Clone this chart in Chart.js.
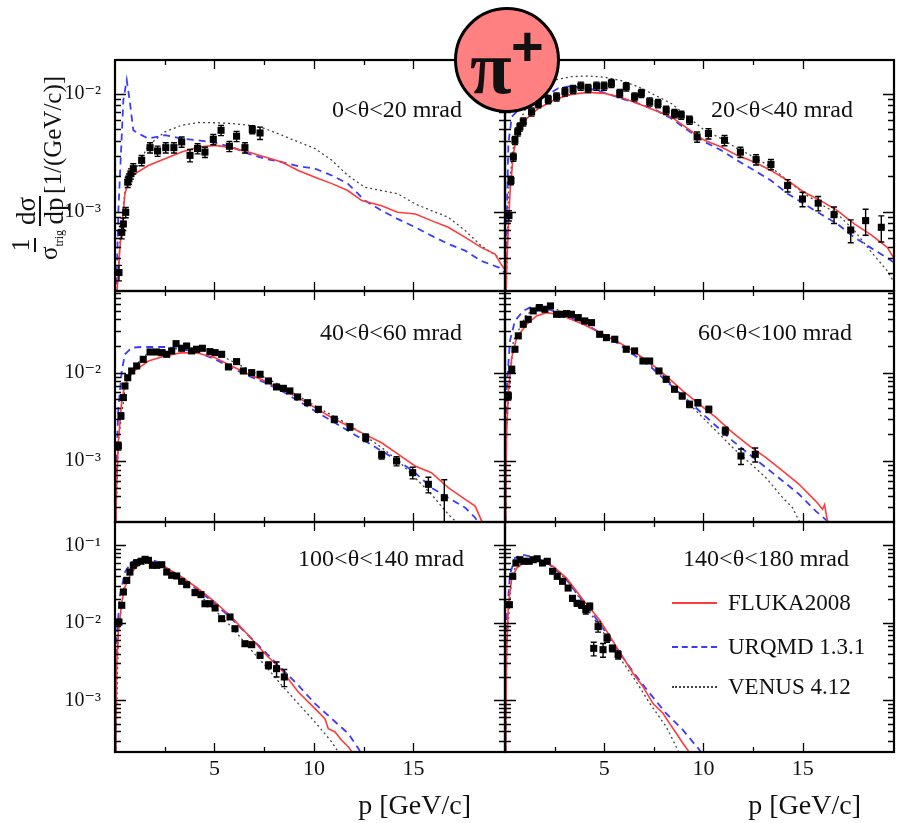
<!DOCTYPE html>
<html>
<head>
<meta charset="utf-8">
<title>pi+ spectra</title>
<script src="https://cdn.jsdelivr.net/npm/chart.js@4.4.1/dist/chart.umd.min.js"></script>
<style>
  body { margin: 0; background: #fff; }
  #wrap { position: relative; width: 899px; height: 823px; overflow: hidden; font-family: "Liberation Serif", "DejaVu Serif", serif; color: #111; }
  #wrap canvas { position: absolute; left: 0; top: 0; }
  .lbl { position: absolute; font-size: 24px; white-space: nowrap; line-height: 24px; }
  .xt { position: absolute; font-size: 28px; white-space: nowrap; line-height: 28px; }
  .leg { position: absolute; font-size: 23px; white-space: nowrap; line-height: 24px; }
  .sw { position: absolute; width: 45px; height: 0; }
  #badge { position: absolute; left: 454px; top: 7px; width: 106px; height: 106px; box-sizing: border-box;
           border: 3.5px solid #000; border-radius: 50%; background: #ff8080; z-index: 5; }
  #badge .pi { position: absolute; left: 13px; top: 19px; font: bold 76px "Liberation Serif", serif; line-height: 76px; }
  #badge .plus { position: absolute; left: 54px; top: 8px; font: bold 56px "Liberation Sans", sans-serif; line-height: 56px; }
  #ytitle { position: absolute; left: -80px; top: 142px; width: 240px; height: 54px; transform: rotate(-90deg);
            display: flex; align-items: center; justify-content: center; white-space: nowrap; }
  .frac { display: inline-flex; flex-direction: column; align-items: center; margin: 0 2px; }
  .frac .num { border-bottom: 2px solid #111; padding: 0 1px; line-height: 26px; }
  .frac .den { line-height: 26px; }
</style>
</head>
<body>
<div id="wrap">
  <canvas id="c0" width="899" height="823"></canvas>
  <canvas id="c1" width="899" height="823"></canvas>
  <canvas id="c2" width="899" height="823"></canvas>
  <canvas id="c3" width="899" height="823"></canvas>
  <canvas id="c4" width="899" height="823"></canvas>
  <canvas id="c5" width="899" height="823"></canvas>

  <div class="lbl" style="right:437px; top:97px;">0&lt;θ&lt;20 mrad</div>
  <div class="lbl" style="right:46px; top:97px;">20&lt;θ&lt;40 mrad</div>
  <div class="lbl" style="right:437px; top:320px;">40&lt;θ&lt;60 mrad</div>
  <div class="lbl" style="right:47px; top:320px;">60&lt;θ&lt;100 mrad</div>
  <div class="lbl" style="right:435px; top:546px;">100&lt;θ&lt;140 mrad</div>
  <div class="lbl" style="right:50px; top:546px;">140&lt;θ&lt;180 mrad</div>

  <div class="sw" style="left:672px; top:602px; border-top:2px solid #ff3b3b;"></div>
  <div class="leg" style="left:728px; top:591px;">FLUKA2008</div>
  <div class="sw" style="left:672px; top:646px; border-top:2px dashed #3b3bff;"></div>
  <div class="leg" style="left:728px; top:635px;">URQMD 1.3.1</div>
  <div class="sw" style="left:672px; top:686px; border-top:2px dotted #444;"></div>
  <div class="leg" style="left:728px; top:675px;">VENUS 4.12</div>

  <div class="xt" style="right:428px; top:791px;">p [GeV/c]</div>
  <div class="xt" style="right:38px; top:791px;">p [GeV/c]</div>

  <div id="ytitle">
    <span class="frac" style="font-size:25px;"><span class="num">1</span><span class="den">σ<sub style="font-size:12px;">trig</sub></span></span>
    <span class="frac" style="font-size:27px;"><span class="num">dσ</span><span class="den">dp</span></span>
    <span style="font-size:25px; margin-top:26px;">[1/(GeV/c)]</span>
  </div>

  <div id="badge"><span class="pi">π</span><span class="plus">+</span></div>
</div>

<script>
// momentum axis (GeV/c) and log y ranges per row
const pRange = [0, 19.6];
const yRangeTop = [2.11e-4, 0.0195];
const yRangeMid = [2.04e-4, 0.084];
const yRangeBot = [2.15e-4, 0.2];

// 0 < theta < 20 mrad
const fluka_0_20 = [[0.05,1.5e-4],[0.25,4.96e-4],[0.5,1.42e-3],[0.75,1.96e-3],[1.0,2.10e-3],[1.68,2.47e-3],[2.51,2.82e-3],[3.35,3.21e-3],[4.19,3.55e-3],[5.03,3.66e-3],[5.86,3.50e-3],[6.7,3.21e-3],[7.54,2.91e-3],[8.38,2.64e-3],[9.21,2.24e-3],[10.05,1.96e-3],[10.9,1.73e-3],[11.7,1.51e-3],[12.4,1.24e-3],[13.4,1.12e-3],[14.2,9.86e-4],[15.1,9.55e-4],[15.9,8.38e-4],[16.75,7.35e-4],[17.6,6.03e-4],[18.4,4.96e-4],[19.1,4.35e-4],[19.4,3.57e-4],[19.6,3.2e-4]];
const urqmd_0_20 = [[0.05,1.5e-4],[0.17,1.02e-3],[0.42,8.89e-3],[0.59,1.32e-2],[0.75,8.5e-3],[0.92,4.92e-3],[1.34,4.47e-3],[1.68,4.18e-3],[2.51,4.47e-3],[3.35,4.18e-3],[4.19,4.04e-3],[5.03,3.84e-3],[5.86,3.55e-3],[6.7,3.11e-3],[7.54,2.82e-3],[8.38,2.64e-3],[9.21,2.43e-3],[10.05,2.32e-3],[10.9,2.03e-3],[11.7,1.73e-3],[12.56,1.24e-3],[13.4,1.02e-3],[14.2,8.66e-4],[15.1,7.35e-4],[15.9,6.24e-4],[16.75,5.30e-4],[17.6,4.65e-4],[18.4,3.81e-4],[19.3,3.34e-4],[19.6,3.0e-4]];
const venus_0_20 = [[0.05,1.5e-4],[0.25,5.5e-4],[0.5,1.5e-3],[1.0,2.2e-3],[1.68,3.66e-3],[2.51,4.77e-3],[3.35,5.43e-3],[4.19,5.73e-3],[5.03,5.70e-3],[5.86,5.61e-3],[6.7,5.43e-3],[7.54,5.09e-3],[8.38,4.47e-3],[9.21,3.92e-3],[10.05,3.44e-3],[10.9,2.73e-3],[11.7,2.03e-3],[12.56,1.61e-3],[13.4,1.51e-3],[14.2,1.42e-3],[15.1,1.16e-3],[15.9,1.02e-3],[16.75,8.95e-4],[17.6,6.89e-4],[18.4,5.12e-4],[19.3,4.07e-4],[19.6,3.7e-4]];
const data_0_20 = [[0.2,3.03e-4,0.15],[0.34,6.66e-4,0.12],[0.42,7.85e-4,0.12],[0.54,9.86e-4,0.1],[0.64,1.78e-3,0.1],[0.7,1.90e-3,0.1],[0.8,2.10e-3,0.1],[0.92,2.32e-3,0.1],[1.34,2.73e-3,0.1],[1.76,3.50e-3,0.1],[2.14,3.28e-3,0.1],[2.55,3.50e-3,0.1],[2.96,3.50e-3,0.1],[3.35,3.92e-3,0.1],[3.77,3.01e-3,0.12],[4.15,3.44e-3,0.1],[4.52,3.21e-3,0.1],[4.94,4.12e-3,0.1],[5.33,4.92e-3,0.1],[5.75,3.60e-3,0.1],[6.11,4.38e-3,0.1],[6.53,3.50e-3,0.1],[6.9,4.99e-3,0.08],[7.29,4.67e-3,0.12]];

// 20 < theta < 40 mrad
const fluka_20_40 = [[0.05,1.5e-4],[0.08,3.34e-4],[0.25,1.42e-3],[0.42,3.11e-3],[0.67,4.92e-3],[1.0,6.0e-3],[1.68,7.55e-3],[2.51,9.0e-3],[3.35,9.94e-3],[4.19,1.033e-2],[5.03,1.014e-2],[5.86,9.37e-3],[6.7,8.32e-3],[7.54,7.29e-3],[8.38,6.40e-3],[9.21,5.09e-3],[10.05,4.04e-3],[10.9,3.55e-3],[11.7,3.01e-3],[12.56,2.64e-3],[13.4,2.24e-3],[14.24,1.84e-3],[15.08,1.46e-3],[15.9,1.24e-3],[16.75,1.02e-3],[17.6,7.85e-4],[18.4,6.44e-4],[19.26,4.96e-4],[19.6,4.0e-4]];
const urqmd_20_40 = [[0.04,1.5e-4],[0.08,7.35e-4],[0.17,3.79e-3],[0.34,6.40e-3],[0.67,7.29e-3],[1.34,8.32e-3],[2.0,9.49e-3],[2.68,1.12e-2],[3.35,1.17e-2],[4.19,1.12e-2],[5.03,1.026e-2],[5.86,9.18e-3],[6.7,8.32e-3],[7.54,7.40e-3],[8.38,6.20e-3],[9.21,4.92e-3],[10.05,3.92e-3],[10.9,3.32e-3],[11.7,2.73e-3],[12.56,2.24e-3],[13.4,1.84e-3],[14.24,1.42e-3],[15.08,1.16e-3],[15.9,9.55e-4],[16.75,7.85e-4],[17.6,6.03e-4],[18.4,4.96e-4],[19.6,3.7e-4]];
const venus_20_40 = [[0.05,1.5e-4],[0.17,1.42e-3],[0.5,4.61e-3],[1.0,7.29e-3],[1.68,1.048e-2],[2.51,1.32e-2],[3.35,1.406e-2],[4.19,1.426e-2],[5.03,1.39e-2],[5.86,1.30e-2],[6.7,1.156e-2],[7.54,9.81e-3],[8.38,8.32e-3],[9.21,6.40e-3],[10.05,4.92e-3],[10.9,4.18e-3],[11.7,3.44e-3],[12.56,2.91e-3],[13.4,2.39e-3],[14.24,1.84e-3],[15.08,1.42e-3],[15.9,1.16e-3],[16.75,9.55e-4],[17.6,6.89e-4],[18.4,4.65e-4],[19.26,3.13e-4],[19.6,2.5e-4]];
const data_20_40 = [[0.2,9.25e-4,0.1],[0.3,1.84e-3,0.08],[0.42,2.91e-3,0.08],[0.5,4.04e-3,0.08],[0.64,4.77e-3,0.08],[0.75,5.26e-3,0.08],[0.92,5.81e-3,0.08],[1.34,7.06e-3,0.08],[1.68,8.32e-3,0.08],[2.18,9.0e-3,0.08],[2.6,9.49e-3,0.08],[3.02,1.048e-2,0.08],[3.43,1.097e-2,0.08],[3.82,1.17e-2,0.08],[4.19,1.12e-2,0.08],[4.61,1.17e-2,0.08],[4.99,1.17e-2,0.08],[5.36,1.233e-2,0.08],[5.78,1.014e-2,0.08],[6.11,1.156e-2,0.08],[6.53,9.49e-3,0.08],[6.87,1.014e-2,0.08],[7.29,8.60e-3,0.08],[7.71,8.32e-3,0.08],[8.12,7.29e-3,0.08],[8.54,6.84e-3,0.08],[8.88,6.62e-3,0.08],[9.3,6.0e-3,0.08],[9.68,4.32e-3,0.1],[10.25,4.61e-3,0.1],[11.06,4.04e-3,0.1],[11.86,3.21e-3,0.1],[12.65,2.77e-3,0.1],[13.4,2.52e-3,0.1],[14.24,1.67e-3,0.12],[14.99,1.28e-3,0.14],[15.78,1.18e-3,0.14],[16.58,9.42e-4,0.16],[17.42,6.97e-4,0.22],[18.17,8.38e-4,0.25],[18.96,7.35e-4,0.25]];

// 40 < theta < 60 mrad
const fluka_40_60 = [[0.03,1.5e-4],[0.08,5.45e-4],[0.17,1.69e-3],[0.34,4.79e-3],[0.5,7.40e-3],[0.84,1.0e-2],[1.34,1.191e-2],[1.68,1.355e-2],[2.51,1.545e-2],[3.35,1.684e-2],[4.19,1.66e-2],[5.03,1.479e-2],[5.86,1.191e-2],[6.7,9.59e-3],[7.54,8.06e-3],[8.38,6.49e-3],[9.21,5.22e-3],[10.05,4.02e-3],[10.9,3.09e-3],[11.73,2.49e-3],[12.56,2.0e-3],[13.4,1.61e-3],[14.24,1.19e-3],[15.08,8.78e-4],[15.9,7.38e-4],[16.75,4.99e-4],[17.6,3.68e-4],[18.1,3.09e-4],[18.43,2.09e-4],[18.6,1.5e-4]];
const urqmd_40_60 = [[0.03,1.5e-4],[0.08,1.09e-3],[0.17,4.02e-3],[0.34,1.045e-2],[0.5,1.614e-2],[0.84,1.918e-2],[1.34,1.953e-2],[2.51,1.953e-2],[3.35,1.841e-2],[4.19,1.684e-2],[5.03,1.416e-2],[5.86,1.14e-2],[6.7,9.18e-3],[7.54,7.71e-3],[8.38,6.21e-3],[9.21,4.79e-3],[10.05,3.68e-3],[10.9,2.84e-3],[11.73,2.19e-3],[12.56,1.69e-3],[13.4,1.30e-3],[14.24,1.0e-3],[15.08,7.38e-4],[15.9,4.99e-4],[16.75,3.84e-4],[17.6,2.96e-4],[18.1,2.28e-4],[18.4,1.8e-4]];
const venus_40_60 = [[0.03,1.5e-4],[0.17,1.69e-3],[0.5,6.5e-3],[1.0,1.2e-2],[1.68,1.684e-2],[3.35,1.918e-2],[4.19,1.841e-2],[5.03,1.684e-2],[5.86,1.355e-2],[6.7,1.092e-2],[8.38,7.06e-3],[10.05,4.20e-3],[11.73,2.60e-3],[13.4,1.42e-3],[14.24,1.0e-3],[15.08,6.47e-4],[15.9,4.20e-4],[16.75,2.49e-4],[17.1,2.09e-4],[17.3,1.6e-4]];
const data_40_60 = [[0.17,1.48e-3,0.1],[0.3,3.24e-3,0.08],[0.42,5.22e-3,0.06],[0.5,7.06e-3,0.06],[0.64,8.77e-3,0.06],[0.84,1.045e-2,0.06],[1.09,1.191e-2,0.06],[1.42,1.416e-2,0.06],[1.76,1.714e-2,0.06],[2.09,1.714e-2,0.06],[2.35,1.684e-2,0.06],[2.6,1.614e-2,0.06],[2.85,1.762e-2,0.06],[3.07,2.128e-2,0.06],[3.35,1.889e-2,0.06],[3.6,2.004e-2,0.06],[3.85,1.762e-2,0.06],[4.1,1.841e-2,0.06],[4.39,1.889e-2,0.06],[4.77,1.73e-2,0.06],[5.03,1.684e-2,0.06],[5.36,1.614e-2,0.06],[5.7,1.161e-2,0.06],[6.11,1.333e-2,0.06],[6.45,1.045e-2,0.06],[6.87,1.0e-2,0.06],[7.29,9.59e-3,0.06],[7.71,8.06e-3,0.06],[8.12,6.89e-3,0.06],[8.46,6.65e-3,0.06],[8.79,6.21e-3,0.06],[9.18,5.31e-3,0.06],[9.68,4.57e-3,0.06],[10.22,3.85e-3,0.07],[11.02,2.96e-3,0.08],[11.81,2.43e-3,0.08],[12.6,1.84e-3,0.1],[13.4,1.17e-3,0.1],[14.15,1.0e-3,0.12],[14.96,7.38e-4,0.15],[15.75,5.45e-4,0.2],[16.55,3.84e-4,0.6]];

// 60 < theta < 100 mrad
const fluka_60_100 = [[0.03,1.5e-4],[0.08,2.0e-3],[0.17,6.21e-3],[0.34,1.479e-2],[0.59,2.49e-2],[1.09,3.53e-2],[1.59,4.38e-2],[2.09,4.78e-2],[2.6,4.58e-2],[3.1,4.20e-2],[3.94,3.53e-2],[4.77,2.84e-2],[5.61,2.29e-2],[6.45,1.762e-2],[7.29,1.297e-2],[8.12,9.18e-3],[8.96,6.21e-3],[9.8,4.38e-3],[10.64,3.09e-3],[11.47,2.10e-3],[12.31,1.48e-3],[13.15,1.09e-3],[13.99,7.71e-4],[14.82,5.45e-4],[15.66,3.52e-4],[16.0,2.84e-4],[16.1,3.2e-4],[16.25,2.09e-4],[16.35,1.6e-4]];
const urqmd_60_100 = [[0.03,1.5e-4],[0.08,6.21e-3],[0.25,2.29e-2],[0.5,3.85e-2],[0.92,5.0e-2],[1.42,5.69e-2],[1.93,5.45e-2],[2.43,5.0e-2],[3.1,4.38e-2],[3.94,3.68e-2],[4.77,2.84e-2],[5.61,2.19e-2],[6.45,1.614e-2],[7.29,1.191e-2],[8.12,8.06e-3],[8.96,5.45e-3],[9.8,3.68e-3],[10.64,2.49e-3],[11.47,1.69e-3],[12.31,1.19e-3],[13.15,8.41e-4],[13.99,5.94e-4],[14.82,4.20e-4],[15.66,2.71e-4],[16.25,2.09e-4],[16.4,1.6e-4]];
const venus_60_100 = [[0.03,1.5e-4],[0.08,2.6e-3],[0.42,2.29e-2],[1.09,4.58e-2],[1.76,5.45e-2],[2.43,5.45e-2],[3.1,4.58e-2],[3.94,3.68e-2],[4.77,2.84e-2],[6.45,1.762e-2],[8.12,8.77e-3],[8.96,5.22e-3],[9.8,3.38e-3],[10.64,2.19e-3],[11.47,1.42e-3],[12.31,9.58e-4],[13.15,6.47e-4],[13.99,3.84e-4],[14.49,2.96e-4],[14.82,2.09e-4],[15.0,1.6e-4]];
const data_60_100 = [[0.17,5.45e-3,0.1],[0.34,1.092e-2,0.08],[0.5,1.841e-2,0.06],[0.67,2.61e-2,0.06],[0.92,3.53e-2,0.06],[1.17,4.02e-2,0.06],[1.42,5.0e-2,0.06],[1.73,5.45e-2,0.08],[2.01,5.22e-2,0.06],[2.29,5.69e-2,0.06],[2.6,4.58e-2,0.06],[2.85,4.58e-2,0.06],[3.1,4.66e-2,0.06],[3.35,4.58e-2,0.06],[3.69,4.20e-2,0.06],[4.02,3.85e-2,0.06],[4.36,3.68e-2,0.06],[4.77,2.72e-2,0.06],[5.11,2.49e-2,0.06],[5.53,2.39e-2,0.06],[6.11,1.841e-2,0.06],[6.53,1.762e-2,0.06],[6.95,1.355e-2,0.06],[7.29,1.355e-2,0.06],[7.76,1.045e-2,0.06],[8.12,8.41e-3,0.06],[8.54,6.49e-3,0.06],[8.93,5.45e-3,0.07],[9.3,4.38e-3,0.08],[9.72,4.57e-3,0.08],[10.27,3.85e-3,0.08],[11.1,2.19e-3,0.1],[11.89,1.14e-3,0.2],[12.61,1.19e-3,0.18]];

// 100 < theta < 140 mrad
const fluka_100_140 = [[0.03,1.5e-4],[0.08,2.83e-3],[0.17,7.60e-3],[0.34,1.854e-2],[0.5,2.90e-2],[0.84,4.52e-2],[1.34,6.09e-2],[1.68,6.40e-2],[2.18,5.80e-2],[2.51,5.25e-2],[3.35,3.90e-2],[4.19,2.75e-2],[5.03,1.854e-2],[5.86,1.189e-2],[6.7,6.90e-3],[7.54,3.99e-3],[8.38,2.44e-3],[9.21,1.28e-3],[10.05,7.80e-4],[10.55,5.79e-4],[10.72,4.30e-4],[11.06,3.90e-4],[11.39,3.05e-4],[11.73,2.49e-4],[12.0,2.0e-4]];
const urqmd_100_140 = [[0.03,1.5e-4],[0.08,6.24e-3],[0.25,2.26e-2],[0.5,4.52e-2],[0.84,6.09e-2],[1.34,6.86e-2],[1.68,6.71e-2],[2.18,6.09e-2],[2.51,5.25e-2],[3.35,3.71e-2],[4.19,2.62e-2],[5.03,1.762e-2],[5.86,1.13e-2],[6.7,6.90e-3],[7.54,4.20e-3],[8.38,2.56e-3],[9.21,1.56e-3],[10.05,9.04e-4],[10.89,5.79e-4],[11.73,3.71e-4],[12.23,2.38e-4],[12.4,2.0e-4]];
const venus_100_140 = [[0.03,1.5e-4],[0.17,7.60e-3],[0.5,3.71e-2],[1.0,5.52e-2],[1.51,6.40e-2],[2.18,5.80e-2],[3.35,3.53e-2],[4.19,2.38e-2],[5.03,1.449e-2],[5.86,8.83e-3],[6.7,4.88e-3],[7.54,2.83e-3],[8.38,1.56e-3],[9.21,9.04e-4],[10.05,5.25e-4],[10.89,2.90e-4],[11.22,2.15e-4],[11.4,1.8e-4]];
const data_100_140 = [[0.2,1.023e-2,0.08],[0.34,1.682e-2,0.06],[0.42,2.50e-2,0.06],[0.59,3.53e-2,0.06],[0.75,4.52e-2,0.05],[0.92,5.52e-2,0.05],[1.09,5.97e-2,0.05],[1.31,6.23e-2,0.05],[1.51,6.60e-2,0.05],[1.68,6.40e-2,0.05],[1.88,5.52e-2,0.05],[2.09,5.52e-2,0.05],[2.35,5.62e-2,0.05],[2.6,4.52e-2,0.05],[2.85,4.10e-2,0.05],[3.1,4.02e-2,0.05],[3.35,3.43e-2,0.05],[3.6,3.10e-2,0.05],[4.02,2.45e-2,0.05],[4.32,2.31e-2,0.05],[4.52,1.762e-2,0.05],[4.77,1.762e-2,0.05],[5.03,1.552e-2,0.06],[5.36,1.13e-2,0.06],[5.78,1.189e-2,0.06],[6.03,8.39e-3,0.06],[6.53,5.37e-3,0.07],[6.87,5.22e-3,0.07],[7.29,3.81e-3,0.08],[7.71,2.83e-3,0.1],[8.12,2.56e-3,0.22],[8.51,2.0e-3,0.25]];

// 140 < theta < 180 mrad
const fluka_140_180 = [[0.03,1.5e-4],[0.08,4.04e-3],[0.17,1.714e-2],[0.34,3.78e-2],[0.59,5.09e-2],[0.92,5.91e-2],[1.42,6.52e-2],[1.93,6.22e-2],[2.43,5.36e-2],[3.1,3.78e-2],[3.94,1.972e-2],[4.77,1.088e-2],[5.61,4.92e-3],[6.45,2.23e-3],[6.95,1.50e-3],[7.45,9.14e-4],[7.96,6.79e-4],[8.29,5.04e-4],[8.63,3.75e-4],[8.96,2.79e-4],[9.21,2.28e-4],[9.4,1.8e-4]];
const urqmd_140_180 = [[0.03,1.5e-4],[0.08,1.088e-2],[0.25,4.18e-2],[0.5,6.86e-2],[0.84,7.57e-2],[1.26,7.21e-2],[1.76,6.52e-2],[2.26,5.62e-2],[3.1,3.60e-2],[3.94,1.875e-2],[4.77,9.86e-3],[5.61,4.68e-3],[6.45,2.34e-3],[7.29,1.23e-3],[8.12,6.79e-4],[8.96,4.15e-4],[9.8,2.28e-4],[10.0,1.9e-4]];
const venus_140_180 = [[0.03,1.5e-4],[0.08,5.0e-3],[0.34,3.98e-2],[0.67,6.52e-2],[1.09,6.71e-2],[1.59,6.52e-2],[2.26,5.62e-2],[3.1,3.60e-2],[3.94,1.787e-2],[4.77,8.93e-3],[5.61,4.04e-3],[6.45,2.02e-3],[7.29,9.14e-4],[8.12,4.57e-4],[8.63,2.5e-4],[8.9,1.8e-4]];
const data_140_180 = [[0.22,1.714e-2,0.06],[0.39,3.98e-2,0.05],[0.55,5.91e-2,0.05],[0.75,6.52e-2,0.05],[0.95,6.22e-2,0.05],[1.22,6.22e-2,0.05],[1.42,6.52e-2,0.05],[1.62,6.71e-2,0.05],[1.89,5.91e-2,0.05],[2.13,6.22e-2,0.05],[2.4,4.62e-2,0.06],[2.63,3.98e-2,0.06],[2.9,3.43e-2,0.06],[3.18,2.81e-2,0.06],[3.4,2.07e-2,0.08],[3.63,1.787e-2,0.08],[3.85,1.714e-2,0.1],[4.07,1.479e-2,0.12],[4.27,1.633e-2,0.1],[4.47,4.68e-3,0.2],[4.69,8.93e-3,0.15],[4.94,4.50e-3,0.2],[5.14,6.37e-3,0.12],[5.41,4.68e-3,0.1],[5.7,3.87e-3,0.12]];

const W = 899, H = 823;
const serif = '"Liberation Serif", "DejaVu Serif", serif';
const supMap = { '-': '⁻', '0': '⁰', '1': '¹', '2': '²', '3': '³', '4': '⁴', '5': '⁵', '6': '⁶', '7': '⁷', '8': '⁸', '9': '⁹' };

function pts(arr) {
  return arr.map(r => ({ x: r[0], y: r[1], e: r[2] }));
}

// frame, inner ticks (root style) and error bars
const rootStyle = {
  id: 'rootStyle',
  afterDatasetsDraw(chart) {
    const { ctx, chartArea: a, scales: { x, y } } = chart;
    ctx.save();
    // error bars
    ctx.beginPath();
    ctx.rect(a.left, a.top, a.width, a.height);
    ctx.clip();
    ctx.strokeStyle = '#000';
    ctx.lineWidth = 1.4;
    ctx.beginPath();
    chart.data.datasets[0].data.forEach(d => {
      const px = x.getPixelForValue(d.x);
      const yHi = y.getPixelForValue(d.y * (1 + d.e));
      const yLo = y.getPixelForValue(Math.max(d.y * (1 - d.e), 1e-6));
      ctx.moveTo(px, yHi); ctx.lineTo(px, yLo);
      ctx.moveTo(px - 3, yHi); ctx.lineTo(px + 3, yHi);
      ctx.moveTo(px - 3, yLo); ctx.lineTo(px + 3, yLo);
    });
    ctx.stroke();
    ctx.restore();

    ctx.save();
    ctx.strokeStyle = '#000';
    ctx.lineWidth = 1.3;
    ctx.beginPath();
    x.ticks.forEach(t => {
      const v = t.value;
      if (v <= x.min || v >= x.max) return;
      if (Math.abs(v / 2.5 - Math.round(v / 2.5)) > 1e-6) return;
      const len = Math.abs(v / 5 - Math.round(v / 5)) < 1e-6 ? 9 : 5;
      const px = Math.round(x.getPixelForValue(v)) + 0.5;
      ctx.moveTo(px, a.bottom); ctx.lineTo(px, a.bottom - len);
      ctx.moveTo(px, a.top); ctx.lineTo(px, a.top + len);
    });
    y.ticks.forEach(t => {
      const v = t.value;
      if (v <= y.min || v >= y.max) return;
      const e = Math.floor(Math.log10(v) + 1e-9);
      const m = v / Math.pow(10, e);
      if (Math.abs(m - Math.round(m)) > 1e-6) return;
      const len = Math.round(m) === 1 ? 11 : 6;
      const py = Math.round(y.getPixelForValue(v)) + 0.5;
      ctx.moveTo(a.left, py); ctx.lineTo(a.left + len, py);
      ctx.moveTo(a.right, py); ctx.lineTo(a.right - len, py);
    });
    ctx.stroke();
    ctx.lineWidth = 2.2;
    ctx.strokeRect(a.left, a.top, a.width, a.height);
    ctx.restore();
  }
};

function makePanel(id, box, yRange, data, fluka, urqmd, venus, showY, showX) {
  const [x0, y0, x1, y1] = box;
  return new Chart(document.getElementById(id), {
    type: 'scatter',
    data: {
      datasets: [
        { label: 'NA61 data', data: pts(data), pointStyle: 'rect', pointRadius: 5, backgroundColor: '#000', borderColor: '#000', borderWidth: 0 },
        { label: 'FLUKA2008', data: pts(fluka), showLine: true, pointRadius: 0, borderColor: '#ff3b3b', borderWidth: 1.6 },
        { label: 'URQMD 1.3.1', data: pts(urqmd), showLine: true, pointRadius: 0, borderColor: '#3b3bff', borderWidth: 1.8, borderDash: [7, 5] },
        { label: 'VENUS 4.12', data: pts(venus), showLine: true, pointRadius: 0, borderColor: '#444', borderWidth: 1.3, borderDash: [2, 3] }
      ]
    },
    options: {
      responsive: false,
      animation: false,
      events: [],
      layout: { padding: { left: 0, top: y0, right: W - x1, bottom: 0 } },
      plugins: { legend: { display: false }, tooltip: { enabled: false } },
      scales: {
        x: {
          type: 'linear',
          min: pRange[0],
          max: pRange[1],
          afterFit: s => { s.height = H - y1; },
          grid: { display: false },
          border: { display: false },
          ticks: {
            display: showX,
            stepSize: 2.5,
            autoSkip: false,
            maxRotation: 0,
            padding: -4,
            color: '#111',
            font: { family: serif, size: 22 },
            callback: v => (v > 0 && Math.abs(v / 5 - Math.round(v / 5)) < 1e-6) ? String(v) : ''
          }
        },
        y: {
          type: 'logarithmic',
          min: yRange[0],
          max: yRange[1],
          afterFit: s => { s.width = x0; },
          grid: { display: false },
          border: { display: false },
          ticks: {
            display: showY,
            autoSkip: false,
            padding: 6,
            color: '#111',
            font: { family: serif, size: 20 },
            callback: v => {
              const e = Math.log10(v);
              if (Math.abs(e - Math.round(e)) > 1e-6) return '';
              return '10' + String(Math.round(e)).split('').map(c => supMap[c]).join('');
            }
          }
        }
      }
    },
    plugins: [rootStyle]
  });
}

makePanel('c0', [115, 60, 505, 291], yRangeTop, data_0_20, fluka_0_20, urqmd_0_20, venus_0_20, true, false);
makePanel('c1', [505, 60, 895, 291], yRangeTop, data_20_40, fluka_20_40, urqmd_20_40, venus_20_40, false, false);
makePanel('c2', [115, 291, 505, 522], yRangeMid, data_40_60, fluka_40_60, urqmd_40_60, venus_40_60, true, false);
makePanel('c3', [505, 291, 895, 522], yRangeMid, data_60_100, fluka_60_100, urqmd_60_100, venus_60_100, false, false);
makePanel('c4', [115, 522, 505, 752], yRangeBot, data_100_140, fluka_100_140, urqmd_100_140, venus_100_140, true, true);
makePanel('c5', [505, 522, 895, 752], yRangeBot, data_140_180, fluka_140_180, urqmd_140_180, venus_140_180, false, true);
</script>
</body>
</html>
